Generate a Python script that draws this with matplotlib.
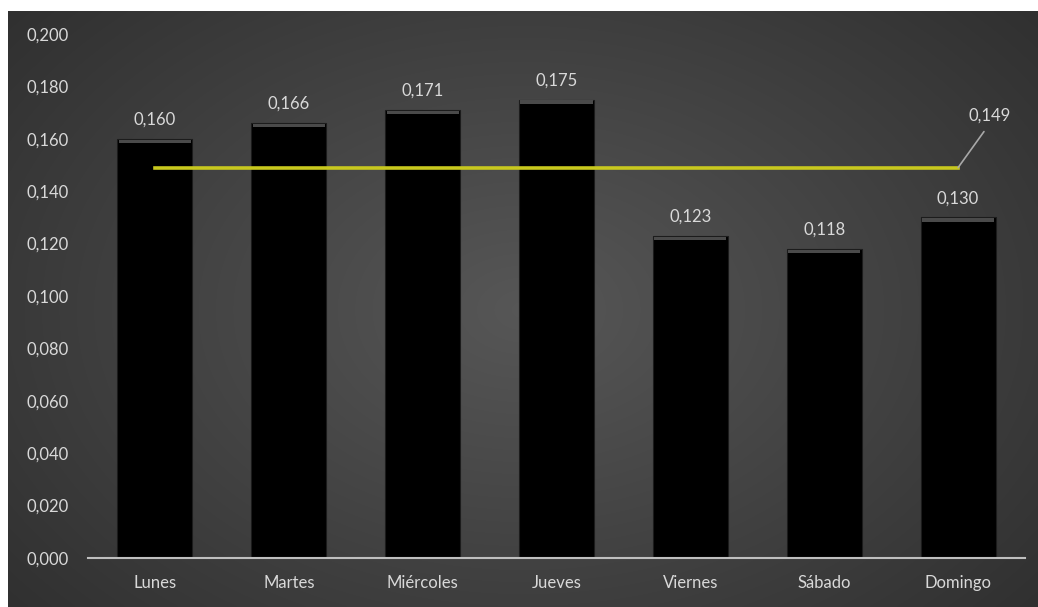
import numpy as np
import matplotlib
matplotlib.use("Agg")
import matplotlib.pyplot as plt

dias = ["Lunes", "Martes", "Miércoles", "Jueves", "Viernes", "Sábado", "Domingo"]
valores = [0.160, 0.166, 0.171, 0.175, 0.123, 0.118, 0.130]
promedio = 0.149
yticks = [0.000, 0.020, 0.040, 0.060, 0.080, 0.100, 0.120, 0.140, 0.160, 0.180, 0.200]

def fmt(v):
    return f"{v:.3f}".replace(".", ",")

plt.rcParams['font.family'] = ['Lato', 'DejaVu Sans']
W, H = 1038, 607
fig = plt.figure(figsize=(W / 100, H / 100), dpi=100)
fig.patch.set_facecolor("white")

# background with radial gradient
bg = fig.add_axes([8 / W, 0, 1 - 8 / W, 1 - 11 / H])
bg.set_axis_off()
yy, xx = np.mgrid[0:300, 0:500]
cx, cy = 250, 150
d = np.sqrt(((xx - cx) / 280.0) ** 2 + ((yy - cy) / 200.0) ** 2)
light = np.clip(0.34 - 0.13 * d, 0.19, 0.34)
img = np.dstack([light, light, light])
bg.imshow(img, aspect="auto", extent=[0, 1, 0, 1], interpolation="bilinear")
bg.set_xlim(0, 1)
bg.set_ylim(0, 1)

# main axes
left, right = 88, 1025
bottom, top = 558, 34
ax = fig.add_axes([left / W, 1 - bottom / H, (right - left) / W, (bottom - top) / H])
ax.set_facecolor("none")
x = np.arange(len(dias))
ax.bar(x, valores, width=0.56, color="black", edgecolor="#1c1c1c", linewidth=0.8, zorder=2)
# top highlight strip
ax.bar(x, [0.0013] * len(valores), bottom=[v - 0.0016 for v in valores], width=0.54,
       color="#4a4a4a", edgecolor="none", zorder=3)

for xi, v in zip(x, valores):
    ax.annotate(fmt(v), (xi, v), xytext=(0, 8), textcoords="offset points",
                ha="center", va="bottom", color="#d9d9d9", fontsize=12, zorder=5)

# average line
ax.plot([x[0], x[-1]], [promedio, promedio], color="#c8c81e", linewidth=2.6, zorder=4)
ax.annotate(fmt(promedio), (x[-1], promedio), xytext=(23, 32), textcoords="offset points",
            ha="center", va="bottom", color="#d9d9d9", fontsize=12, zorder=5,
            arrowprops=dict(arrowstyle="-", color="#a8a8a8", lw=1.2, shrinkA=5, shrinkB=0,
                            relpos=(0.5, 0.0)))

ax.set_xlim(-0.5, len(dias) - 0.5)
ax.set_ylim(0, 0.2)
ax.set_yticks(yticks)
ax.set_yticklabels([fmt(t) for t in yticks])
ax.set_xticks(x)
ax.set_xticklabels(dias)
ax.tick_params(axis="y", length=0, pad=14, colors="#d9d9d9", labelsize=12)
ax.tick_params(axis="x", length=0, pad=12, colors="#d9d9d9", labelsize=12)
for s in ["top", "right", "left"]:
    ax.spines[s].set_visible(False)
ax.spines["bottom"].set_color("#bfbfbf")
ax.spines["bottom"].set_linewidth(1.5)
ax.spines["bottom"].set_zorder(6)

fig.savefig("out.png", dpi=100, facecolor=fig.get_facecolor())
